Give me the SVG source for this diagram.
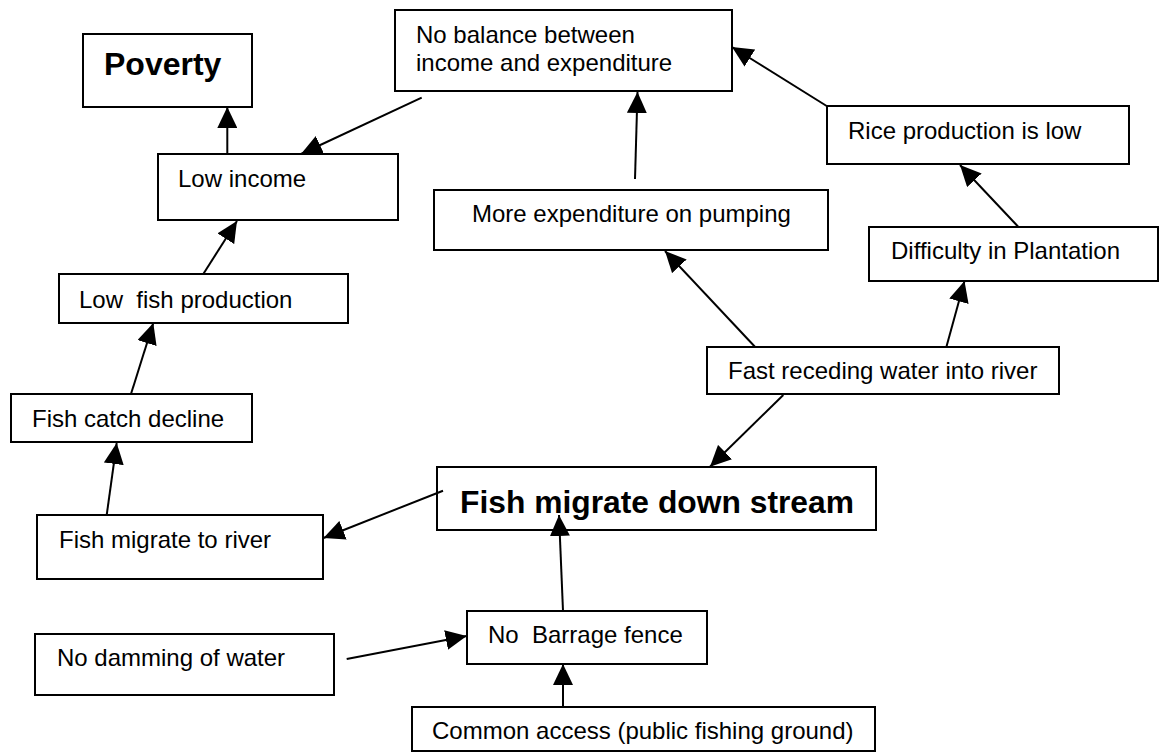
<svg xmlns="http://www.w3.org/2000/svg" width="1160" height="753" viewBox="0 0 1160 753">
<style>
.box{fill:#fff;stroke:#000;stroke-width:2}
.t{font-family:"Liberation Sans",Arial,sans-serif;font-size:24px;fill:#000;white-space:pre}
.b{font-family:"Liberation Sans",Arial,sans-serif;font-size:32px;font-weight:bold;fill:#000}
.c line{stroke:#000;stroke-width:2;marker-end:url(#ah)}
</style>
<defs>
<marker id="ah" markerUnits="userSpaceOnUse" markerWidth="22" markerHeight="20" refX="21" refY="10" orient="auto">
<path d="M0,0 L21,10 L0,20 z" fill="#000"/>
</marker>
</defs>
<rect width="1160" height="753" fill="#fff"/>
<g id="poverty"><rect class="box" x="83" y="34" width="169" height="73"/><text class="b" x="104" y="75">Poverty</text></g>
<g id="no-balance"><rect class="box" x="395" y="10" width="337" height="81"/><text class="t" x="416" y="43">No balance between</text><text class="t" x="416" y="71">income and expenditure</text></g>
<g id="low-income"><rect class="box" x="158" y="154" width="240" height="66"/><text class="t" x="178" y="187">Low income</text></g>
<g id="rice"><rect class="box" x="827" y="106" width="302" height="58"/><text class="t" x="848" y="139">Rice production is low</text></g>
<g id="more-expenditure"><rect class="box" x="434" y="190" width="394" height="60"/><text class="t" x="472" y="222">More expenditure on pumping</text></g>
<g id="difficulty"><rect class="box" x="869" y="227" width="289" height="54"/><text class="t" x="891" y="259">Difficulty in Plantation</text></g>
<g id="low-fish"><rect class="box" x="59" y="274" width="289" height="49"/><text class="t" x="79" y="308" xml:space="preserve">Low  fish production</text></g>
<g id="fast-receding"><rect class="box" x="707" y="347" width="352" height="47"/><text class="t" x="728" y="379">Fast receding water into river</text></g>
<g id="fish-catch"><rect class="box" x="11" y="394" width="241" height="48"/><text class="t" x="32" y="427">Fish catch decline</text></g>
<g id="fish-down"><rect class="box" x="437" y="467" width="439" height="63"/><text class="b" x="460" y="513" textLength="394" lengthAdjust="spacingAndGlyphs">Fish migrate down stream</text></g>
<g id="fish-river"><rect class="box" x="37" y="515" width="286" height="64"/><text class="t" x="59" y="548">Fish migrate to river</text></g>
<g id="no-barrage"><rect class="box" x="467" y="611" width="240" height="53"/><text class="t" x="488" y="643" xml:space="preserve">No  Barrage fence</text></g>
<g id="no-damming"><rect class="box" x="35" y="634" width="299" height="61"/><text class="t" x="57" y="666">No damming of water</text></g>
<g id="common-access"><rect class="box" x="412" y="707" width="463" height="44"/><text class="t" x="432" y="739">Common access (public fishing ground)</text></g>
<g id="connectors" class="c">
<line x1="227.3" y1="154" x2="227.3" y2="107"/>
<line x1="421.7" y1="97.7" x2="301" y2="154"/>
<line x1="203.3" y1="274" x2="237" y2="221"/>
<line x1="131" y1="394" x2="153.3" y2="323"/>
<line x1="106.7" y1="515" x2="116.7" y2="443"/>
<line x1="443" y1="490.7" x2="323.5" y2="538"/>
<line x1="783.3" y1="395" x2="710" y2="466.7"/>
<line x1="754.7" y1="346.5" x2="665" y2="251"/>
<line x1="946.5" y1="346.5" x2="964.5" y2="281"/>
<line x1="1018" y1="226.5" x2="960" y2="165"/>
<line x1="826.7" y1="106" x2="732" y2="47"/>
<line x1="635" y1="179" x2="637.5" y2="92"/>
<line x1="563" y1="611" x2="559" y2="515"/>
<line x1="346.7" y1="659" x2="466.7" y2="636"/>
<line x1="563" y1="707" x2="563" y2="664"/>
</g>
</svg>
